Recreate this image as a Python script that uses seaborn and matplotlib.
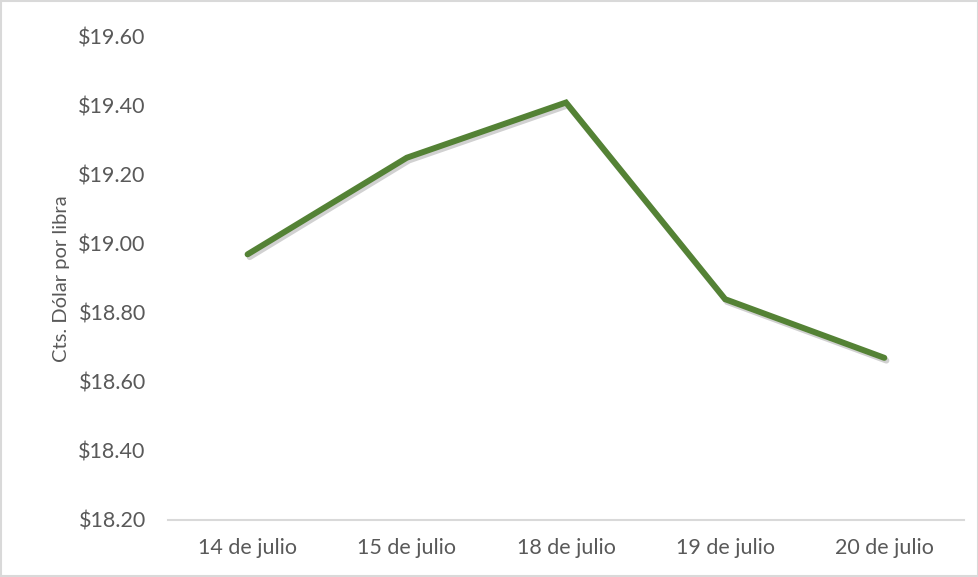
import numpy as np
import pandas as pd
import seaborn as sns
import matplotlib.pyplot as plt
import matplotlib.patheffects as pe
from matplotlib.ticker import FuncFormatter

fechas = ['14 de julio', '15 de julio', '18 de julio', '19 de julio', '20 de julio']
precios = [18.97, 19.25, 19.41, 18.84, 18.67]
yticks = [18.20, 18.40, 18.60, 18.80, 19.00, 19.20, 19.40, 19.60]

sns.set_theme(style='white')
plt.rcParams['font.family'] = ['Lato', 'DejaVu Sans']

df = pd.DataFrame({'fecha': fechas, 'precio': precios})

fig = plt.figure(figsize=(9.79, 5.77), dpi=100)
ax = fig.add_axes([0.1716, 0.0988, 0.813, 0.8371])

sns.lineplot(data=df, x='fecha', y='precio', ax=ax, color='#548235', linewidth=4.3,
             sort=False, solid_capstyle='round', solid_joinstyle='miter',
             path_effects=[pe.SimpleLineShadow(offset=(1.5, -2), alpha=0.18, shadow_color='black'),
                           pe.Normal()])

ax.set_xlim(-0.5, len(fechas) - 0.5)
ax.set_ylim(yticks[0], yticks[-1])
ax.set_yticks(yticks)
ax.yaxis.set_major_formatter(FuncFormatter(lambda v, p: '${:.2f}'.format(v)))

for s in ['top', 'right', 'left']:
    ax.spines[s].set_visible(False)
ax.spines['bottom'].set_color('#D9D9D9')
ax.spines['bottom'].set_linewidth(1.5)

ax.tick_params(axis='both', length=0, labelsize=15.5, labelcolor='#595959')
ax.tick_params(axis='x', pad=13)
ax.tick_params(axis='y', pad=16)
ax.set_xlabel('')
ax.set_ylabel('Cts. Dólar por libra', fontsize=14.5, color='#595959', labelpad=6)
ax.grid(False)

fig.patches.append(plt.Rectangle((0.001, 0.001), 0.998, 0.998, transform=fig.transFigure,
                                 fill=False, edgecolor='#D9D9D9', linewidth=1.5))

fig.savefig('out.png', dpi=100)
